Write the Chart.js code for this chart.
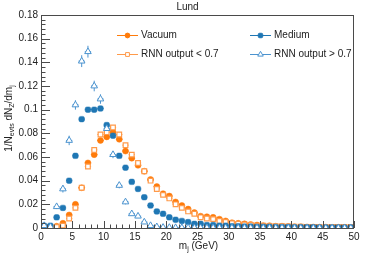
<!DOCTYPE html>
<html>
<head>
<meta charset="utf-8">
<script src="https://cdn.jsdelivr.net/npm/chart.js@4.4.0/dist/chart.umd.min.js"></script>
<style>
  html, body { margin: 0; padding: 0; background: #fff; }
  #wrap { width: 374px; height: 254px; }
</style>
</head>
<body>
<div id="wrap"><canvas id="lundChart" width="374" height="254"></canvas></div>
<script>
// bin centres of m_j (GeV), 1 GeV bins
const binCenters = [0.5, 1.5, 2.5, 3.5, 4.5, 5.5, 6.5, 7.5, 8.5, 9.5,
    10.5, 11.5, 12.5, 13.5, 14.5, 15.5, 16.5, 17.5, 18.5, 19.5,
    20.5, 21.5, 22.5, 23.5, 24.5, 25.5, 26.5, 27.5, 28.5, 29.5,
    30.5, 31.5, 32.5, 33.5, 34.5, 35.5, 36.5, 37.5, 38.5, 39.5,
    40.5, 41.5, 42.5, 43.5, 44.5, 45.5, 46.5, 47.5, 48.5, 49.5];

const vacuum = [0.0005, 0.0008, 0.0015, 0.004, 0.011, 0.020, 0.034, 0.055, 0.062, 0.074,
    0.077, 0.081, 0.075, 0.065, 0.059, 0.053, 0.048, 0.041, 0.035, 0.029,
    0.027, 0.022, 0.019, 0.016, 0.013, 0.010, 0.0095, 0.009, 0.0075, 0.006,
    0.0045, 0.004, 0.0035, 0.003, 0.0025, 0.002, 0.002, 0.0015, 0.0015, 0.0012,
    0.001, 0.001, 0.0009, 0.0008, 0.0007, 0.0007, 0.0006, 0.0006, 0.0005, 0.0005];

const medium = [0.002, 0.002, 0.009, 0.017, 0.040, 0.061, 0.092, 0.100, 0.100, 0.101,
    0.087, 0.078, 0.061, 0.051, 0.039, 0.033, 0.026, 0.019, 0.014, 0.012,
    0.009, 0.007, 0.006, 0.005, 0.0035, 0.0035, 0.0025, 0.0025, 0.002, 0.002,
    0.0015, 0.0015, 0.0012, 0.0012, 0.001, 0.001, 0.001, 0.0009, 0.0008, 0.0008,
    0.0007, 0.0007, 0.0006, 0.0006, 0.0005, 0.0005, 0.0005, 0.0004, 0.0004, 0.0004];

const rnnLow = [0.0002, 0.0003, 0.0008, 0.002, 0.008, 0.017, 0.034, 0.052, 0.066, 0.079,
    0.081, 0.085, 0.079, 0.070, 0.062, 0.055, 0.048, 0.040, 0.033, 0.028,
    0.025, 0.020, 0.017, 0.014, 0.012, 0.009, 0.008, 0.0075, 0.006, 0.005,
    0.004, 0.0035, 0.003, 0.0025, 0.002, 0.002, 0.0018, 0.0016, 0.0015, 0.0014,
    0.0012, 0.0011, 0.001, 0.001, 0.0009, 0.0009, 0.0008, 0.0008, 0.0008, 0.0008];

const rnnHigh = [0.002, 0.001, 0.018, 0.033, 0.074, 0.104, 0.141, 0.149, 0.120, 0.109,
    0.084, 0.062, 0.036, 0.022, 0.012, 0.010, 0.005, 0.002, 0.001, 0.0005,
    0.0004, 0.0003, 0.0003, 0.0003, 0.0002, 0.0002, 0.0002, 0.0002, 0.0002, 0.0002,
    0.0001, 0.0001, 0.0001, 0.0001, 0.0001, 0.0001, 0.0001, 0.0001, 0.0001, 0.0001,
    0, 0, 0, 0, 0, 0, 0, 0, 0, 0];

// statistical errors on the RNN > 0.7 sample (the only ones visible)
const rnnHighErr = [0.0008, 0.0006, 0.002, 0.003, 0.004, 0.004, 0.005, 0.005, 0.0045, 0.004,
    0.0035, 0.003, 0.0025, 0.002, 0.0015, 0.0015, 0.001, 0.0008, 0.0005, 0.0004,
    0.0003, 0.0003, 0.0003, 0.0003, 0.0002, 0.0002, 0.0002, 0.0002, 0.0002, 0.0002,
    0, 0, 0, 0, 0, 0, 0, 0, 0, 0, 0, 0, 0, 0, 0, 0, 0, 0, 0, 0];

const binHalfWidth = 0.5;
const xTickValues = [0, 5, 10, 15, 20, 25, 30, 35, 40, 45, 50];
const yTickValues = [0, 0.02, 0.04, 0.06, 0.08, 0.1, 0.12, 0.14, 0.16, 0.18];
const xMinorStep = 1;
const yMinorStep = 0.004;

const ORANGE = "#ff7b0a";
const ORANGE_LIGHT = "#ff9a4a";
const BLUE = "#1f77b4";
const BLUE_LIGHT = "#4b93cf";
const FONT = "Liberation Sans, Arial, sans-serif";

function toPoints(ys) {
    return binCenters.map((x, i) => ({ x: x, y: ys[i] }));
}

const datasets = [
    { label: "RNN output > 0.7", data: toPoints(rnnHigh), errs: rnnHighErr,
      pointStyle: "triangle", pointRadius: 3.8, borderColor: BLUE_LIGHT,
      backgroundColor: "#ffffff", pointBorderWidth: 1, legendPos: [1, 1] },
    { label: "Medium", data: toPoints(medium),
      pointStyle: "rectRounded", pointRadius: 3.2, borderColor: BLUE,
      backgroundColor: BLUE, pointBorderWidth: 0.5, legendPos: [1, 0] },
    { label: "RNN output < 0.7", data: toPoints(rnnLow),
      pointStyle: "rect", pointRadius: 3.3, borderColor: ORANGE_LIGHT,
      backgroundColor: "#ffffff", pointBorderWidth: 1.2, legendPos: [0, 1] },
    { label: "Vacuum", data: toPoints(vacuum),
      pointStyle: "circle", pointRadius: 3, borderColor: ORANGE,
      backgroundColor: ORANGE, pointBorderWidth: 0.5, legendPos: [0, 0] }
];
datasets.forEach(d => { d.showLine = false; d.pointHoverRadius = d.pointRadius; });

// error bars: horizontal = bin width, vertical = stat. error
const errorBars = {
    id: "errorBars",
    beforeDatasetsDraw(chart) {
        const ctx = chart.ctx, xs = chart.scales.x, ys = chart.scales.y;
        ctx.save();
        ctx.lineWidth = 1;
        chart.data.datasets.forEach(ds => {
            ctx.strokeStyle = ds.borderColor;
            ds.data.forEach((p, i) => {
                const px = xs.getPixelForValue(p.x), py = ys.getPixelForValue(p.y);
                ctx.beginPath();
                ctx.moveTo(xs.getPixelForValue(p.x - binHalfWidth), py);
                ctx.lineTo(xs.getPixelForValue(p.x + binHalfWidth), py);
                if (ds.errs && ds.errs[i] > 0) {
                    ctx.moveTo(px, ys.getPixelForValue(p.y - ds.errs[i]));
                    ctx.lineTo(px, ys.getPixelForValue(p.y + ds.errs[i]));
                }
                ctx.stroke();
            });
        });
        ctx.restore();
    }
};

// ROOT-like frame, inward ticks, title, axis titles and legend
const rootDecor = {
    id: "rootDecor",
    afterDraw(chart) {
        const ctx = chart.ctx, a = chart.chartArea;
        const xs = chart.scales.x, ys = chart.scales.y;
        ctx.save();
        ctx.strokeStyle = "#4a4a4a";
        ctx.lineWidth = 1;
        ctx.strokeRect(a.left + 0.5, a.top + 0.5, a.right - a.left - 1, a.bottom - a.top);

        ctx.beginPath();
        for (let v = xs.min; v <= xs.max + 1e-9; v += xMinorStep) {
            const px = Math.round(xs.getPixelForValue(v)) + 0.5;
            const len = xTickValues.some(t => Math.abs(t - v) < 1e-6) ? 7 : 3.5;
            ctx.moveTo(px, a.bottom); ctx.lineTo(px, a.bottom - len);
        }
        for (let v = ys.min; v <= ys.max + 1e-9; v += yMinorStep) {
            const py = Math.round(ys.getPixelForValue(v)) + 0.5;
            const len = yTickValues.some(t => Math.abs(t - v) < 1e-6) ? 9 : 4.5;
            ctx.moveTo(a.left, py); ctx.lineTo(a.left + len, py);
        }
        ctx.stroke();

        ctx.fillStyle = "#222";
        ctx.textBaseline = "middle";
        ctx.textAlign = "center";
        ctx.font = "10px " + FONT;
        ctx.fillText("Lund", (a.left + a.right) / 2 - 10, 7);

        // x title: m_j (GeV)
        drawRich(ctx, [["m", 0], ["j", 1], [" (GeV)", 0]], (a.left + a.right) / 2 + 1, 245, 0);
        // y title: 1/N_evts dN_Z/dm_j
        drawRich(ctx, [["1/N", 0], ["evts", 1], [" dN", 0], ["Z", 1], ["/dm", 0], ["j", 1]],
            8, (a.top + a.bottom) / 2 - 3, -Math.PI / 2);

        // legend, two columns
        const cols = [117, 250], rows = [35, 54];
        chart.data.datasets.forEach(ds => {
            const lx = cols[ds.legendPos[0]], ly = rows[ds.legendPos[1]];
            ctx.strokeStyle = ds.borderColor;
            ctx.lineWidth = 1;
            ctx.beginPath();
            ctx.moveTo(lx, ly + 0.5); ctx.lineTo(lx + 21, ly + 0.5);
            ctx.stroke();
            ctx.fillStyle = ds.backgroundColor;
            Chart.helpers.drawPoint(ctx, {
                pointStyle: ds.pointStyle, radius: ds.pointRadius - 0.6,
                rotation: 0, borderWidth: ds.pointBorderWidth
            }, lx + 10.5, ly + 0.5);
            ctx.fillStyle = "#222";
            ctx.textAlign = "left";
            ctx.font = "10px " + FONT;
            ctx.fillText(ds.label, lx + 24, ly + 0.5);
        });
        ctx.restore();
    }
};

function drawRich(ctx, parts, cx, cy, rot) {
    const big = "10px " + FONT, small = "7px " + FONT;
    let w = 0;
    parts.forEach(p => { ctx.font = p[1] ? small : big; w += ctx.measureText(p[0]).width; });
    ctx.save();
    ctx.translate(cx, cy);
    ctx.rotate(rot);
    ctx.textAlign = "left";
    ctx.textBaseline = "alphabetic";
    ctx.fillStyle = "#222";
    let x = -w / 2;
    parts.forEach(p => {
        ctx.font = p[1] ? small : big;
        ctx.fillText(p[0], x, p[1] ? 6 : 3.5);
        x += ctx.measureText(p[0]).width;
    });
    ctx.restore();
}

new Chart(document.getElementById("lundChart"), {
    type: "scatter",
    data: { datasets: datasets },
    options: {
        responsive: false,
        maintainAspectRatio: false,
        animation: false,
        layout: { padding: { left: 0, top: 15, right: 20, bottom: 0 } },
        plugins: { legend: { display: false }, tooltip: { enabled: false } },
        scales: {
            x: {
                type: "linear", min: 0, max: 50,
                grid: { display: false, drawTicks: false },
                border: { display: false },
                afterFit: s => { s.height = 26; },
                afterBuildTicks: s => { s.ticks = xTickValues.map(v => ({ value: v })); },
                ticks: { autoSkip: false, maxRotation: 0, padding: 3, color: "#222",
                         font: { family: FONT, size: 10 }, callback: v => String(v) }
            },
            y: {
                type: "linear", min: 0, max: 0.18,
                grid: { display: false, drawTicks: false },
                border: { display: false },
                afterFit: s => { s.width = 41; },
                afterBuildTicks: s => { s.ticks = yTickValues.map(v => ({ value: v })); },
                ticks: { autoSkip: false, padding: 3, color: "#222",
                         font: { family: FONT, size: 10 },
                         callback: v => String(parseFloat(v.toFixed(2))) }
            }
        }
    },
    plugins: [errorBars, rootDecor]
});
</script>
</body>
</html>
